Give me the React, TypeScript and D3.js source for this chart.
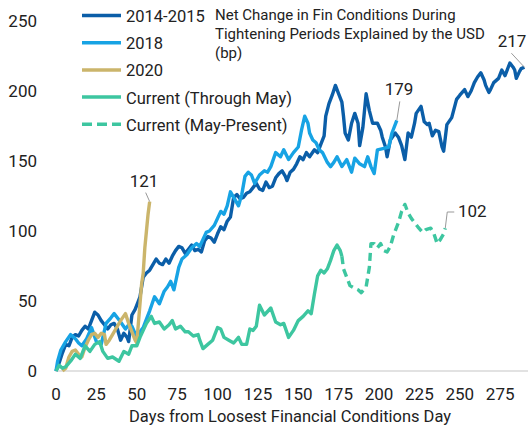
import React from "react";
import * as d3 from "d3";

type P = [number, number];

const s1415: P[] = [[0,0],[2,6],[4,13],[6,19],[8,18],[10,24],[12,26],[14,25],[16,29],[18,32],[20,30],[22,36],[24,42],[26,40],[28,36],[30,33],[32,30],[34,33],[36,34],[38,30],[40,22],[42,27],[44,24],[45,21],[47,40],[49,44],[51,50],[52,53],[54,67],[56,70],[58,72],[60,76],[62,80],[64,77],[66,76],[68,80],[70,77],[72,82],[74,86],[76,89],[78,88],[80,84],[82,87],[84,90],[86,86],[88,87],[90,85],[92,93],[94,96],[96,95],[98,92],[100,98],[102,103],[104,101],[106,107],[108,110],[110,124],[112,126],[114,123],[116,124],[118,127],[120,128],[122,131],[124,134],[126,130],[128,129],[130,135],[132,131],[134,132],[136,138],[138,141],[140,143],[142,139],[143,136],[145,142],[147,144],[149,148],[151,153],[153,151],[155,156],[157,153],[160,158],[162,156],[164,162],[166,168],[167,182],[169,191],[171,197],[173,204],[175,198],[177,192],[178,182],[179,170],[181,165],[183,177],[185,184],[187,177],[188,161],[190,174],[192,198],[194,186],[196,177],[199,177],[201,172],[202,167],[204,160],[205,153],[207,165],[210,170],[212,167],[214,161],[216,151],[218,170],[220,167],[222,177],[223,184],[226,189],[228,178],[230,176],[231,177],[233,168],[235,172],[237,171],[239,160],[240,157],[242,176],[245,181],[248,194],[250,197],[253,201],[255,196],[257,200],[259,206],[261,210],[263,213],[265,208],[266,204],[268,199],[269,201],[271,206],[274,209],[276,215],[278,211],[281,220],[283,217],[284,215],[285,209],[287,214],[288,216],[290,217]];

const s2018: P[] = [[0,0],[1,7],[3,15],[6,21],[9,26],[12,23],[14,20],[16,18],[19,23],[22,31],[25,21],[28,19],[31,34],[34,38],[36,41],[38,38],[40,35],[43,30],[45,33],[47,32],[50,24],[52,28],[54,31],[56,37],[58,43],[61,53],[64,48],[67,57],[69,60],[71,64],[73,58],[76,74],[78,80],[81,83],[84,88],[87,91],[89,89],[91,94],[93,99],[95,100],[98,104],[100,109],[102,114],[104,112],[106,118],[108,128],[111,122],[113,118],[115,126],[117,139],[119,142],[121,140],[123,134],[126,140],[129,143],[131,142],[133,146],[136,156],[139,153],[141,158],[144,151],[147,156],[150,160],[152,172],[154,182],[156,177],[157,170],[159,165],[161,163],[163,158],[165,156],[168,149],[170,146],[172,149],[174,153],[177,146],[180,151],[183,142],[185,152],[188,148],[191,146],[193,153],[195,146],[197,141],[199,158],[203,159],[206,160],[208,170],[211,179]];

const s2020: P[] = [[4,0],[6,2],[8,10],[10,14],[12,15],[14,12],[16,10],[18,17],[20,22],[22,26],[24,27],[26,24],[28,27],[30,26],[31,19],[33,22],[35,26],[37,30],[40,36],[43,41],[45,34],[47,28],[49,22],[50,20],[51,34],[53,62],[54,70],[55,88],[56,100],[57,112],[58,121]];

const sCurThrough: P[] = [[0,0],[2,4],[4,2],[6,3],[9,7],[12,12],[15,9],[18,18],[21,14],[24,19],[27,21],[29,14],[32,9],[35,10],[39,7],[42,14],[45,12],[47,18],[50,18],[52,24],[56,34],[59,39],[61,34],[64,35],[67,30],[70,33],[72,36],[74,30],[77,32],[80,28],[82,28],[85,25],[88,26],[89,22],[91,16],[94,19],[97,22],[100,31],[102,30],[104,24],[107,22],[110,20],[113,24],[115,19],[118,19],[120,30],[122,29],[124,32],[126,47],[129,40],[133,45],[136,35],[139,33],[141,34],[144,24],[147,29],[150,36],[153,39],[156,43],[158,41],[160,55],[162,68],[164,72],[166,70],[168,73],[170,79],[172,86],[174,90],[176,86],[177,82]];

const sCurPresent: P[] = [[177,82],[178,73],[180,67],[182,61],[185,59],[187,58],[189,56],[192,60],[194,74],[195,91],[197,91],[199,88],[201,91],[203,86],[205,85],[207,89],[209,97],[212,106],[214,114],[216,119],[218,113],[220,109],[222,106],[224,103],[227,99],[229,101],[232,102],[234,98],[236,91],[238,94],[240,98],[241,102]];

const xTicks = [0, 25, 50, 75, 100, 125, 150, 175, 200, 225, 250, 275];
const yTicks = [0, 50, 100, 150, 200, 250];

const legendLabels = ["2014-2015", "2018", "2020", "Current (Through May)", "Current (May-Present)"];
const titleLines = ["Net Change in Fin Conditions During", "Tightening Periods Explained by the USD", "(bp)"];
const xTitle = "Days from Loosest Financial Conditions Day";

const C_DARK = "#0b5ea8";
const C_LIGHT = "#17a3e4";
const C_TAN = "#cbb56b";
const C_TEAL = "#3dc6a0";

export default function App() {
  const W = 528, H = 428;
  const x = d3.scaleLinear().domain([0, 290]).range([56, 524.4]);
  const y = d3.scaleLinear().domain([0, 250]).range([371, 21]);
  const line = d3.line<P>().x(d => x(d[0])).y(d => y(d[1]));
  const font = "Roboto, sans-serif";

  const series = [
    { data: s1415, color: C_DARK, dash: undefined as string | undefined },
    { data: s2018, color: C_LIGHT, dash: undefined },
    { data: s2020, color: C_TAN, dash: undefined },
    { data: sCurThrough, color: C_TEAL, dash: undefined },
    { data: sCurPresent, color: C_TEAL, dash: "8,5" },
  ];
  const legendColors = [C_DARK, C_LIGHT, C_TAN, C_TEAL, C_TEAL];
  const legendDash = [undefined, undefined, undefined, undefined, "10,5"];

  const last = (s: P[]) => s[s.length - 1];
  const e2020 = last(s2020), e2018 = last(s2018), e1415 = last(s1415), eCur = last(sCurPresent);

  return (
    <svg width={W} height={H} style={{ position: "absolute", left: 0, top: 0, background: "#fff" }} fontFamily={font}>
      <line x1={55} x2={528} y1={y(0)} y2={y(0)} stroke="#d9d9d9" strokeWidth={1.5} />
      {yTicks.map(t => (
        <text key={t} x={37} y={y(t) + 6} textAnchor="end" fontSize={17} fill="#222">{t}</text>
      ))}
      {xTicks.map(t => (
        <text key={t} x={x(t)} y={400} textAnchor="middle" fontSize={17} fill="#222">{t}</text>
      ))}
      <text x={290} y={422} textAnchor="middle" fontSize={16.5} fill="#222" textLength={322} lengthAdjust="spacingAndGlyphs">{xTitle}</text>

      {series.map((s, i) => (
        <path key={i} d={line(s.data) || ""} fill="none" stroke={s.color} strokeWidth={3.4}
          strokeDasharray={s.dash} strokeLinejoin="round" />
      ))}

      {legendLabels.map((l, i) => (
        <g key={l}>
          <line x1={82} x2={121} y1={15.5 + i * 27.2} y2={15.5 + i * 27.2} stroke={legendColors[i]} strokeWidth={3.5}
            strokeDasharray={legendDash[i]} />
          <text x={126} y={22 + i * 27.2} fontSize={16.5} fill="#222">{l}</text>
        </g>
      ))}

      {titleLines.map((t, i) => (
        <text key={t} x={215} y={20 + i * 19} fontSize={15} fill="#222">{t}</text>
      ))}

      <line x1={x(e2020[0])} y1={y(e2020[1])} x2={x(e2020[0]) - 4} y2={y(e2020[1]) - 9} stroke="#999" strokeWidth={1} />
      <text x={144} y={187} textAnchor="middle" fontSize={17} fill="#222">{e2020[1]}</text>

      <line x1={x(e2018[0])} y1={y(e2018[1])} x2={x(e2018[0]) + 3} y2={y(e2018[1]) - 19} stroke="#999" strokeWidth={1} />
      <text x={399} y={95} textAnchor="middle" fontSize={17} fill="#222">{e2018[1]}</text>

      <line x1={x(e1415[0])} y1={y(e1415[1])} x2={x(e1415[0]) - 13} y2={y(e1415[1]) - 14} stroke="#999" strokeWidth={1} />
      <text x={512} y={47} textAnchor="middle" fontSize={17} fill="#222">{e1415[1]}</text>

      <polyline points={`${x(eCur[0])},${y(eCur[1])} ${x(eCur[0]) + 2},212 ${x(eCur[0]) + 9},212`} fill="none" stroke="#999" strokeWidth={1} />
      <text x={458} y={217} fontSize={17} fill="#222">{eCur[1]}</text>
    </svg>
  );
}
